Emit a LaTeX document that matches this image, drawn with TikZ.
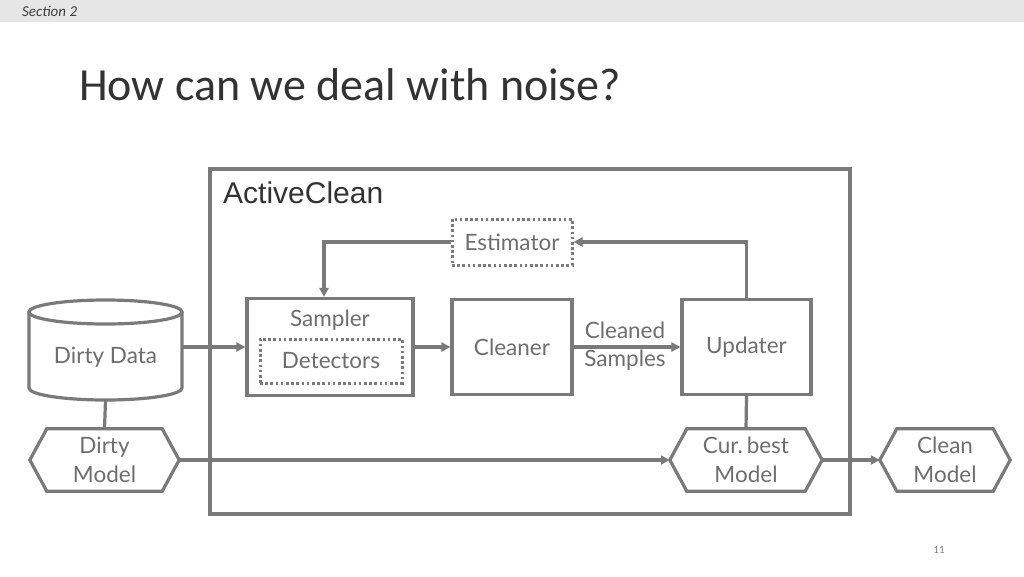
\documentclass[tikz,border=0pt]{standalone}
\usepackage{fontspec}
\setmainfont{Carlito}
\newfontfamily\diafont{Lato}
\newfontfamily\acfont{Liberation Sans}
\usetikzlibrary{arrows.meta,calc}
\definecolor{lc}{HTML}{7A7A7A}
\definecolor{tc}{HTML}{6E6E6E}
\definecolor{hdr}{HTML}{E6E6E6}
\newcommand\dfont{\diafont\fontsize{22.5}{28.5}\selectfont}
\newcommand\hexpath[1]{\draw[lineS] (#1.west) -- ([xshift=17pt]#1.north west) -- ([xshift=-17pt]#1.north east) -- (#1.east) -- ([xshift=-17pt]#1.south east) -- ([xshift=17pt]#1.south west) -- cycle;}
\tikzset{
  lineS/.style={draw=lc, line width=3.2pt},
  boxS/.style={lineS, rectangle, inner sep=0pt, text=tc, font=\dfont, align=center},
  dotS/.style={draw=lc, line width=3pt, dash pattern=on 2.6pt off 2.6pt, rectangle, inner sep=0pt, text=tc, font=\dfont},
  hexS/.style={rectangle, inner sep=0pt, minimum height=62pt, text=tc, font=\dfont, align=center},
  arr/.style={lineS, -{Triangle[length=9pt,width=9pt]}},
}
\begin{document}
\begin{tikzpicture}[x=1pt,y=-1pt]
\useasboundingbox (0,0) rectangle (1024,576);
\fill[white] (0,0) rectangle (1024,576);
\fill[hdr] (0,0) rectangle (1024,22);
\node[anchor=west, text=black!75, font=\itshape\fontsize{15}{17}\selectfont, inner sep=0pt] (sec) at (22,11) {Section 2};
\node[anchor=base west, text=black!80, font=\fontsize{46}{52}\selectfont, inner sep=0pt] (title) at (79,100) {How can we deal with noise?};
\node[anchor=base, text=black!50, font=\fontsize{11}{13}\selectfont, inner sep=0pt] (pg) at (939,553) {11};

% outer frame
\node[lineS, rectangle, minimum width=640pt, minimum height=345pt, inner sep=0pt] (ac) at (530,341.5) {};
\node[anchor=north west, inner sep=0pt, text=black!80, font=\acfont\fontsize{30}{34}\selectfont] (actitle) at (223,182) {ActiveClean};

% boxes
\node[boxS, minimum width=166pt, minimum height=97pt] (sampler) at (330,347) {};
\node[text=tc, font=\dfont, inner sep=0pt] (samptxt) at (330,320) {Sampler};
\node[dotS, minimum width=142pt, minimum height=44pt] (det) at (331,361) {Detectors};
\node[dotS, minimum width=120pt, minimum height=46pt] (est) at (512,242) {Estimator};
\node[boxS, minimum width=120pt, minimum height=95pt] (cleaner) at (512,347) {Cleaner};
\node[boxS, minimum width=129pt, minimum height=95pt] (updater) at (746.5,347) {Updater};

% dirty data cylinder
\node[rectangle, minimum width=153pt, minimum height=100pt, inner sep=0pt] (dd) at (105.5,350) {};
\node[text=tc, font=\dfont, inner sep=0pt] (ddtxt) at (105.5,357) {Dirty Data};
\draw[lineS] (105.5,312) ellipse [x radius=76.5, y radius=12];
\draw[lineS] (29,312) -- (29,388) arc[start angle=180, end angle=0, x radius=76.5, y radius=12] -- (182,312);

% hexagons
\node[hexS, minimum width=149pt] (dm) at (104.5,460) {Dirty\\Model};
\node[hexS, minimum width=152pt] (cb) at (746,460) {Cur.\,best\\Model};
\node[hexS, minimum width=130pt] (cm) at (945,460) {Clean\\Model};
\hexpath{dm}
\hexpath{cb}
\hexpath{cm}

% connectors
\draw[arr] (dd.east |- sampler.west) -- (sampler.west);
\draw[lineS] (dd.south) -- (dm.north);
\draw[arr] (dm.east) -- (cb.west);
\draw[arr] (sampler.east) -- (cleaner.west);
\draw[arr] (cleaner.east) -- (updater.west);
\node[text=tc, font=\dfont, align=center, inner sep=0pt] (cs) at (625,346) {Cleaned\\Samples};
\draw[arr] (est.west) -| ([xshift=-6pt]sampler.north);
\draw[arr] (updater.north) |- (est.east);
\draw[lineS] (updater.south) -- (cb.north);
\draw[arr] (cb.east) -- (cm.west);
\end{tikzpicture}
\end{document}
